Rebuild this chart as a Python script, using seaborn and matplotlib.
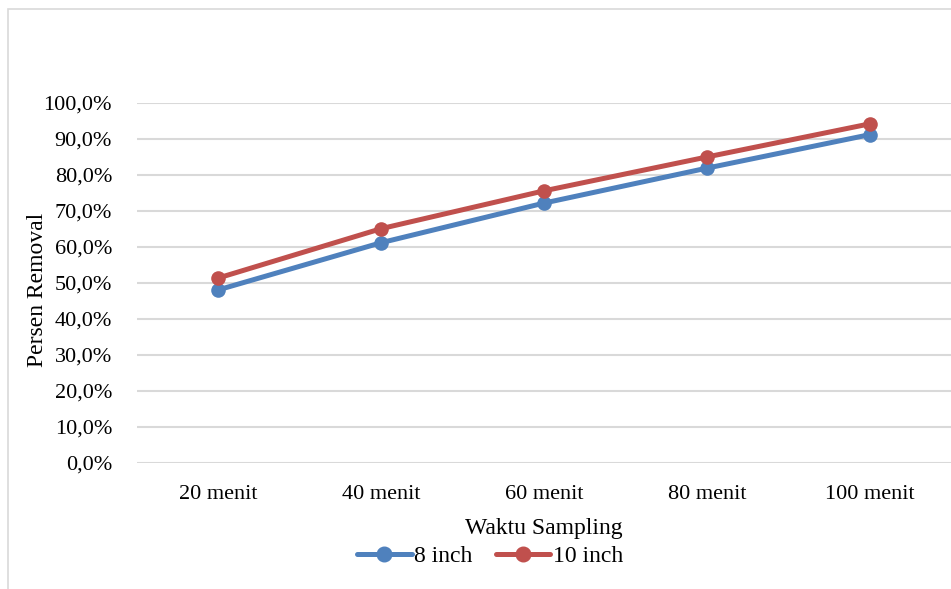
import seaborn as sns
import pandas as pd
import matplotlib.pyplot as plt
from matplotlib.patches import Rectangle
from matplotlib.ticker import FuncFormatter

waktu = ['20 menit', '40 menit', '60 menit', '80 menit', '100 menit']
inch8 = [48.1, 61.2, 72.2, 81.9, 91.2]
inch10 = [51.4, 65.1, 75.6, 85.0, 94.2]

df = pd.DataFrame({'Waktu': waktu * 2,
                   'Persen': inch8 + inch10,
                   'Seri': ['8 inch'] * 5 + ['10 inch'] * 5})

sns.set_style('white')
plt.rcParams['font.family'] = ['Liberation Serif', 'DejaVu Serif']
plt.rcParams['text.color'] = 'black'
plt.rcParams['axes.labelcolor'] = 'black'
plt.rcParams['xtick.color'] = 'black'
plt.rcParams['ytick.color'] = 'black'

fig = plt.figure(figsize=(9.51, 5.89), dpi=100)
ax = fig.add_axes([137 / 951, 1 - 463 / 589, 1 - 137 / 951, 360 / 589])

sns.lineplot(data=df, x='Waktu', y='Persen', hue='Seri', sort=False,
             palette=['#4f81bd', '#c0504d'], marker='o', markersize=10.5,
             markeredgewidth=0, linewidth=3.6, ax=ax, legend=False)

ax.set_ylim(0, 100)
ax.set_xlim(-0.5, 4.5)
ax.set_yticks(range(0, 101, 10))
ax.yaxis.set_major_formatter(FuncFormatter(lambda v, p: f'{v:.1f}%'.replace('.', ',')))
ax.grid(axis='y', color='#d9d9d9', linewidth=1.5)
ax.set_axisbelow(True)
for s in ax.spines.values():
    s.set_visible(False)
ax.tick_params(axis='both', length=0, labelsize=16)
ax.tick_params(axis='x', pad=16)
ax.tick_params(axis='y', pad=18)
ax.set_xlabel('Waktu Sampling', fontsize=17, labelpad=10)
ax.set_ylabel('Persen Removal', fontsize=17)
ax.yaxis.set_label_coords((48 - 137) / 814, 0.48)

handles = [plt.Line2D([], [], color='#4f81bd', marker='o', markersize=10.5, lw=3.6),
           plt.Line2D([], [], color='#c0504d', marker='o', markersize=10.5, lw=3.6)]
fig.legend(handles, ['8 inch', '10 inch'], loc='center', ncol=2,
           bbox_to_anchor=(490 / 951, 1 - 556 / 589), frameon=False,
           fontsize=17, handlelength=2.3, handletextpad=0.1, columnspacing=1.0)

fig.add_artist(Rectangle((8 / 951, -0.01), 1.0, 1 - 9 / 589 + 0.01, transform=fig.transFigure,
                         fill=False, edgecolor='#d9d9d9', linewidth=1.2))

fig.savefig('out.png', dpi=100)
